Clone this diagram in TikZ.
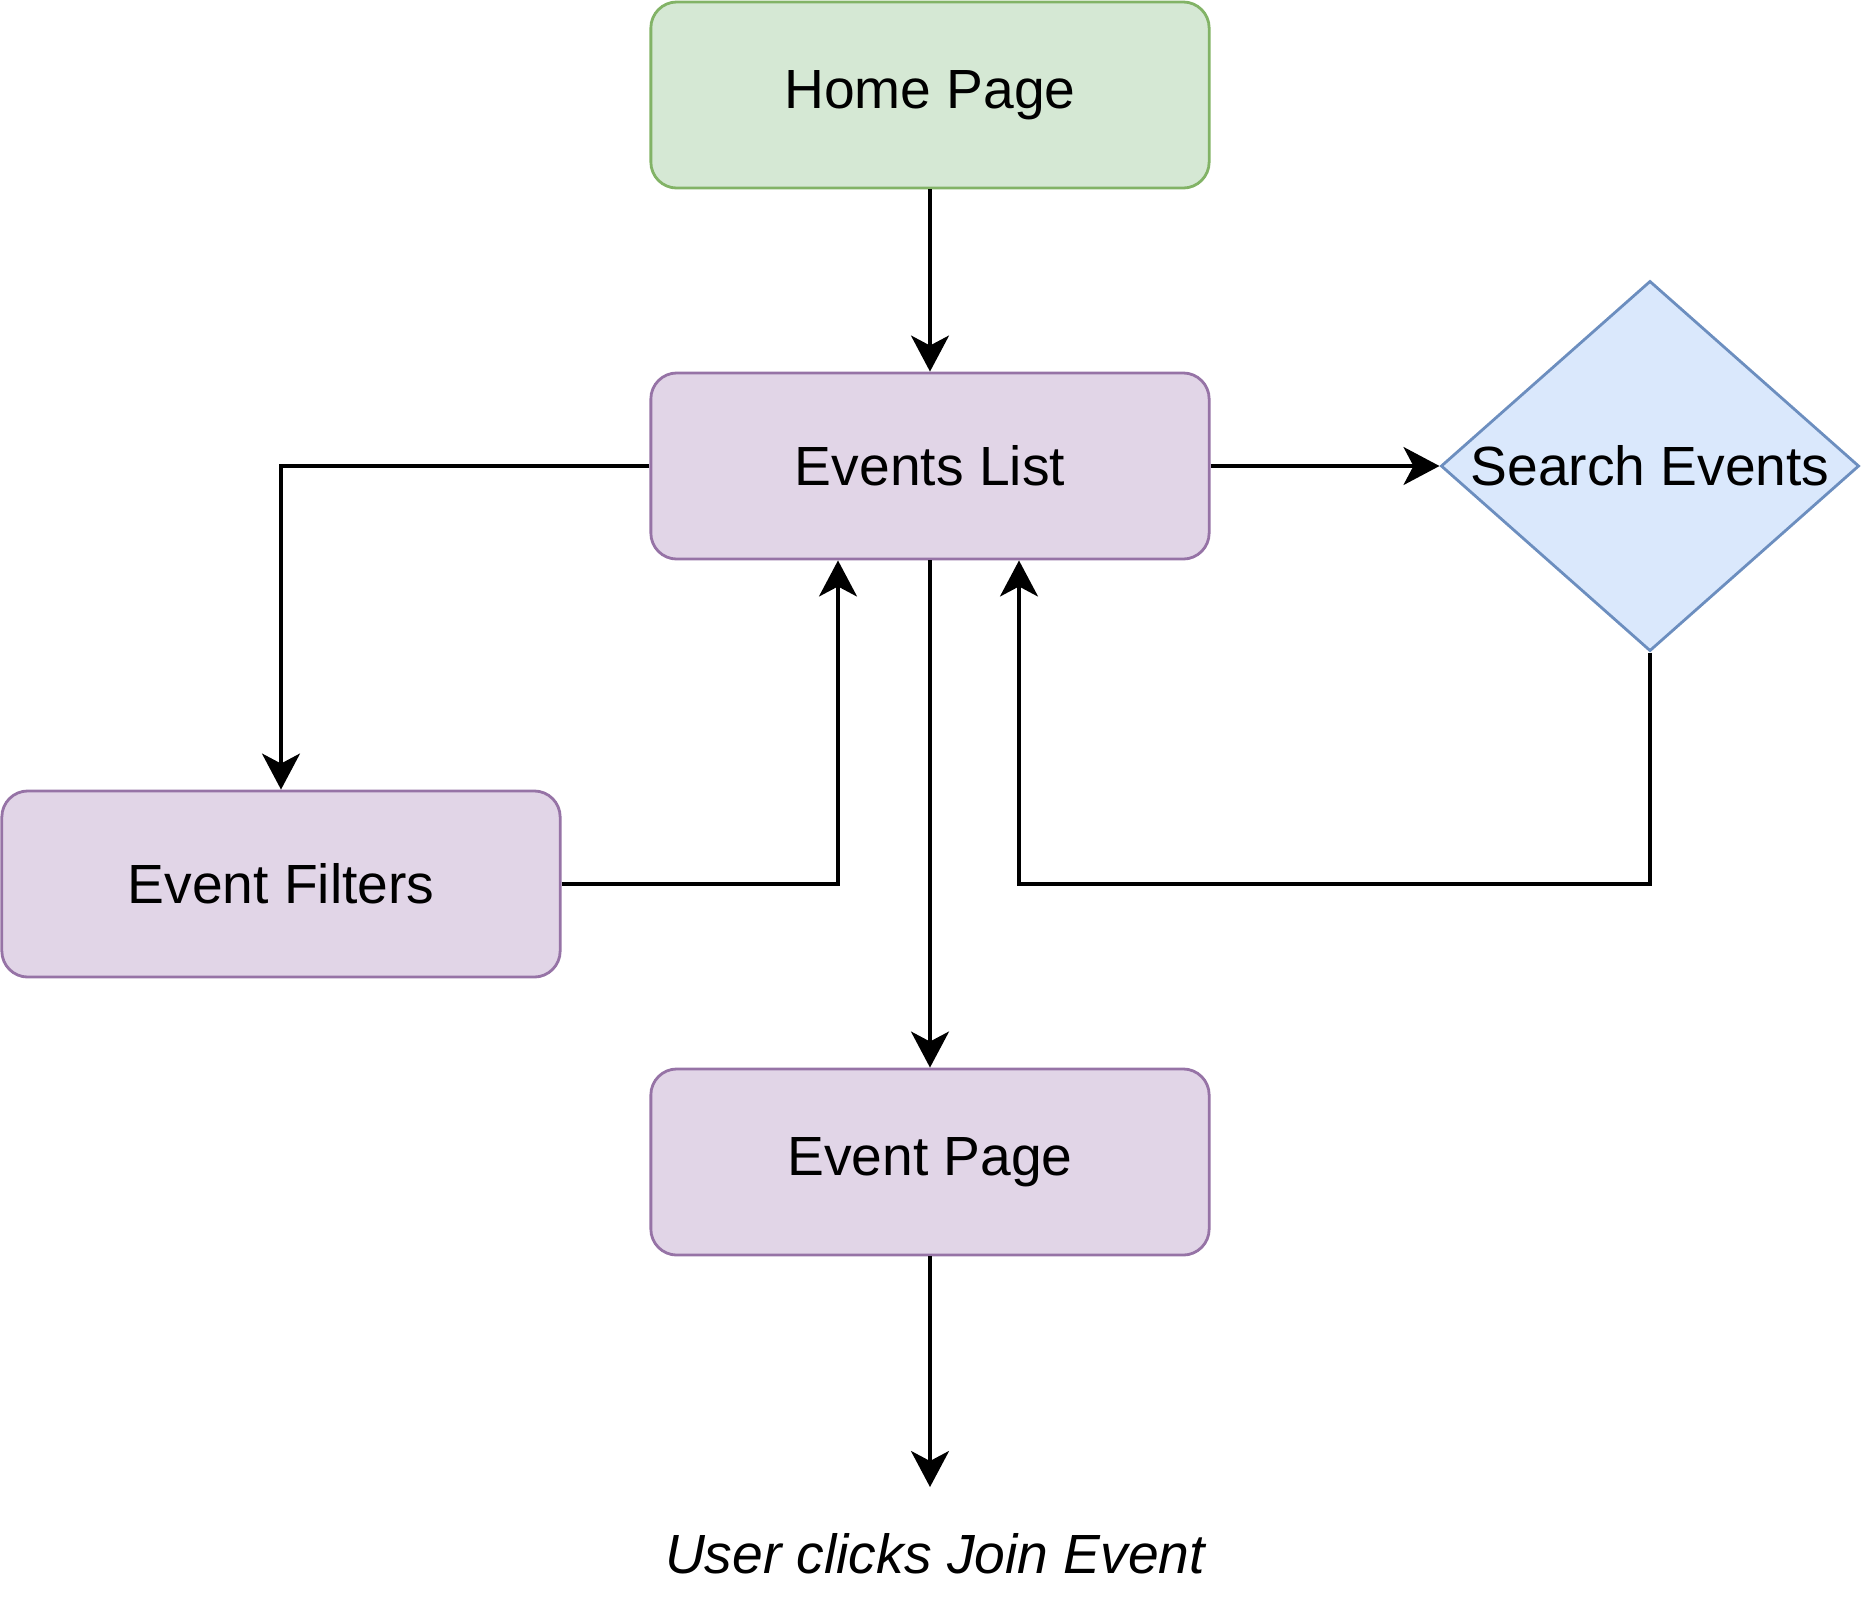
\documentclass[tikz,border=0pt]{standalone}
\usepackage{fontspec}
\setmainfont{Liberation Sans}
\usetikzlibrary{shapes.geometric,arrows.meta}
\definecolor{gfill}{HTML}{D5E8D4}
\definecolor{gline}{HTML}{82B366}
\definecolor{pfill}{HTML}{E1D5E7}
\definecolor{pline}{HTML}{9673A6}
\definecolor{bfill}{HTML}{DAE8FC}
\definecolor{bline}{HTML}{6C8EBF}
\tikzset{
  box/.style={rectangle, rounded corners=0.26cm, minimum width=5.58cm, minimum height=1.86cm, inner sep=0pt, line width=0.8pt, font=\fontsize{15.7}{18}\selectfont},
  greenbox/.style={box, draw=gline, fill=gfill},
  purplebox/.style={box, draw=pline, fill=pfill},
  decision/.style={diamond, draw=bline, fill=bfill, line width=0.8pt, minimum width=4.18cm, minimum height=3.70cm, inner sep=0pt, aspect=1.13},
  arr/.style={line width=0.9pt, -{Stealth[length=0.36cm, width=0.38cm, inset=0.1cm]}},
}
\begin{document}
\begin{tikzpicture}[x=0.01cm, y=-0.01cm]
\useasboundingbox (0,0) rectangle (1863,1608);
\node[greenbox] (hp) at (930,95) {Home Page};
\node[purplebox] (el) at (930,466) {Events List};
\node[purplebox] (ef) at (281,884) {Event Filters};
\node[purplebox] (ep) at (930,1162) {Event Page};
\node[decision, label={[font=\fontsize{15.7}{18}\selectfont]center:Search Events}] (se) at (1650,466) {};
\node[font=\fontsize{15.7}{18}\selectfont\itshape] (join) at (935,1554) {User clicks Join Event};
\coordinate (joinend) at (930,1487);
\coordinate (fc) at (838,884);
\coordinate (sc) at (1019,884);

\draw[arr] (hp.south) -- (el.north);
\draw[arr] (el.east) -- (se.west);
\draw[arr] (el.west) -| (ef.north);
\draw[arr] (ef.east) -- (fc) -- (fc |- el.south);
\draw[arr] (se.south) |- (sc) -- (sc |- el.south);
\draw[arr] (el.south) -- (ep.north);
\draw[arr] (ep.south) -- (joinend);
\end{tikzpicture}
\end{document}
